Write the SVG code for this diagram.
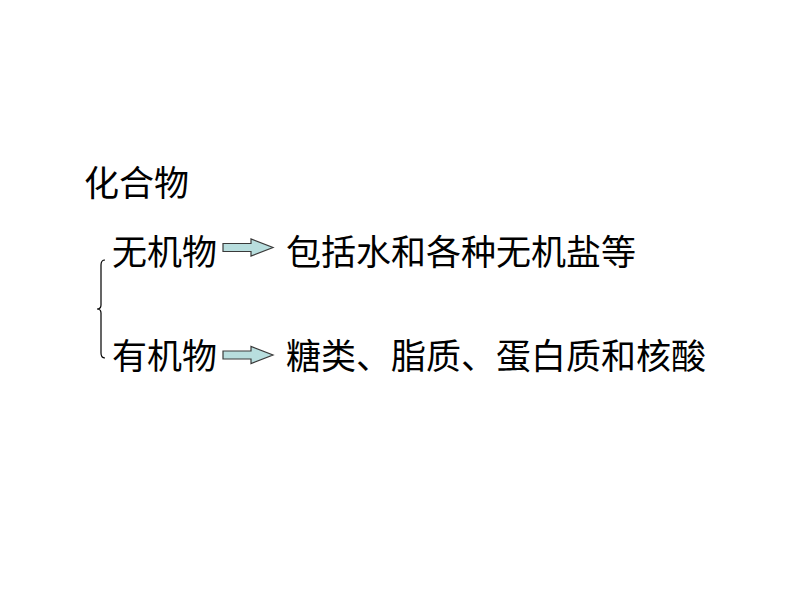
<svg xmlns="http://www.w3.org/2000/svg" width="794" height="596" viewBox="0 0 794 596">
<style>
.t{font-family:"Noto Sans CJK SC","Noto Sans CJK TC",sans-serif;font-size:35px;fill:#000}
.arr{fill:#b8dede;stroke:#3a3a3a;stroke-width:1.2}
.br{fill:none;stroke:#000;stroke-width:1.2}
</style>
<defs>
<path id="arrow" class="arr" d="M0,-4 H28 V-8.5 L50,0 L28,8.5 V4 H0 Z"/>
</defs>
<rect width="794" height="596" fill="#fff"/>
<g id="root"><text class="t" x="84" y="196">化合物</text></g>
<g id="brace"><path class="br" d="M105,260 Q101,260 101,265 V305 Q101,309 97,309 Q101,309 101,313 V353 Q101,358 105,358"/></g>
<g id="inorganic"><text class="t" x="112" y="265">无机物</text></g>
<g id="organic"><text class="t" x="112" y="369">有机物</text></g>
<g id="inorganic-desc"><text class="t" x="286" y="265">包括水和各种无机盐等</text></g>
<g id="organic-desc"><text class="t" x="286" y="369">糖类、脂质、蛋白质和核酸</text></g>
<g id="connectors">
<use href="#arrow" x="223" y="247.5"/>
<use href="#arrow" x="223" y="355"/>
</g>
</svg>
